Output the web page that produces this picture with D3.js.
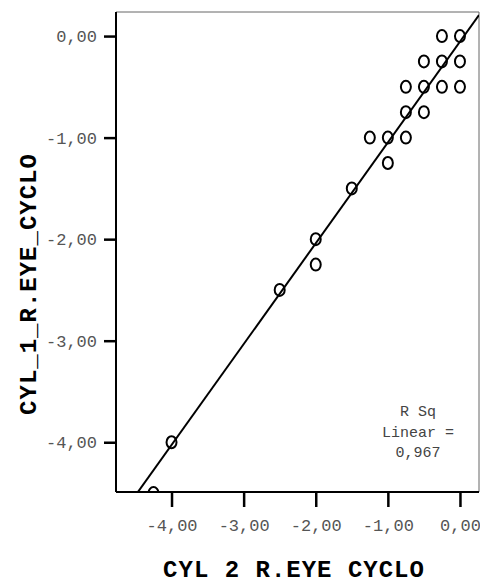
<!DOCTYPE html>
<html lang="en">
<head>
<meta charset="utf-8">
<title>CYL scatter</title>
<script src="https://d3js.org/d3.v7.min.js"></script>
<style>
 body { margin: 0; background: #fff; }
 text { font-family: "Liberation Mono", "Courier New", monospace; }
</style>
</head>
<body>
<script>
// points (CYL 2 R.EYE CYCLO, CYL_1_R.EYE_CYCLO)
const xVals = [0, -0.25, 0, -0.25, -0.5, -0.75, -0.5, -0.25, 0, -0.75, -0.5, -1.25, -1, -0.75, -1, -1.5, -2, -2, -2.5, -4, -4.25];
const yVals = [0, 0, -0.25, -0.25, -0.25, -0.5, -0.5, -0.5, -0.5, -0.75, -0.75, -1, -1, -1, -1.25, -1.5, -2, -2.25, -2.5, -4, -4.5];
const xTicks = [-4, -3, -2, -1, 0];
const yTicks = [0, -1, -2, -3, -4];
const fitSlope = 0.993;
const fitIntercept = -0.055;
const rsqLines = ['R Sq', 'Linear =', '0,967'];

const margin = {top: 12, right: 1, bottom: 91, left: 116};
const W = 480, H = 583;
const width = W - margin.left - margin.right;
const height = H - margin.top - margin.bottom;

const fmt = v => d3.format('.2f')(v).replace('.', ',').replace('−', '-');

const x = d3.scaleLinear().domain([-4.77, 0.264]).range([0, width]);
const y = d3.scaleLinear().domain([-4.49, 0.237]).range([height, 0]);

const svg = d3.select('body').append('svg')
    .attr('width', W).attr('height', H);

svg.append('defs').append('clipPath').attr('id', 'clip')
    .append('rect').attr('width', width).attr('height', height);

const g = svg.append('g')
    .attr('transform', 'translate(' + margin.left + ',' + margin.top + ')');

// frame top/right
g.append('path')
    .attr('d', 'M0,0H' + width + 'V' + height)
    .attr('fill', 'none').attr('stroke', '#666').attr('stroke-width', 1);

const plot = g.append('g').attr('clip-path', 'url(#clip)');

// regression line
const xd = x.domain();
plot.append('line')
    .attr('x1', x(xd[0])).attr('y1', y(fitSlope * xd[0] + fitIntercept))
    .attr('x2', x(xd[1])).attr('y2', y(fitSlope * xd[1] + fitIntercept))
    .attr('stroke', '#000').attr('stroke-width', 2);

// points
plot.selectAll('ellipse')
    .data(xVals)
    .enter()
    .append('ellipse')
    .attr('cx', d => x(d))
    .attr('cy', (d, i) => y(yVals[i]))
    .attr('rx', 5).attr('ry', 6)
    .attr('fill', 'none')
    .attr('stroke', '#000')
    .attr('stroke-width', 2);

// axes
const xAxis = g.append('g')
    .attr('transform', 'translate(0,' + height + ')')
    .call(d3.axisBottom(x).tickValues(xTicks).tickSize(15).tickPadding(12).tickFormat(fmt));
const yAxis = g.append('g')
    .call(d3.axisLeft(y).tickValues(yTicks).tickSize(12).tickPadding(7).tickFormat(fmt));

[xAxis, yAxis].forEach(a => {
    a.select('.domain').attr('stroke', '#000').attr('stroke-width', 2);
    a.selectAll('.tick line').attr('stroke', '#000').attr('stroke-width', 2.5);
    a.selectAll('.tick text')
        .style('font-family', '"Liberation Mono", monospace')
        .style('font-size', '17px')
        .attr('fill', '#555');
});
xAxis.select('.domain').attr('d', 'M0,0H' + width);
yAxis.select('.domain').attr('d', 'M0,0V' + height);

// R squared annotation
g.append('text')
    .attr('x', 302)
    .attr('y', 404)
    .attr('text-anchor', 'middle')
    .style('font-size', '15px')
    .attr('fill', '#444')
    .selectAll('tspan')
    .data(rsqLines)
    .enter()
    .append('tspan')
    .attr('x', 302)
    .attr('dy', (d, i) => i === 0 ? 0 : 20.5)
    .text(d => d);

// axis titles
svg.append('text')
    .attr('x', 294).attr('y', 577)
    .attr('text-anchor', 'middle')
    .style('font-size', '24px').style('font-weight', 'bold')
    .style('letter-spacing', '1px')
    .text('CYL 2 R.EYE CYCLO');

svg.append('text')
    .attr('transform', 'translate(36,284) rotate(-90)')
    .attr('text-anchor', 'middle')
    .style('font-size', '24px').style('font-weight', 'bold')
    .style('letter-spacing', '1px')
    .text('CYL_1_R.EYE_CYCLO');
</script>
</body>
</html>
